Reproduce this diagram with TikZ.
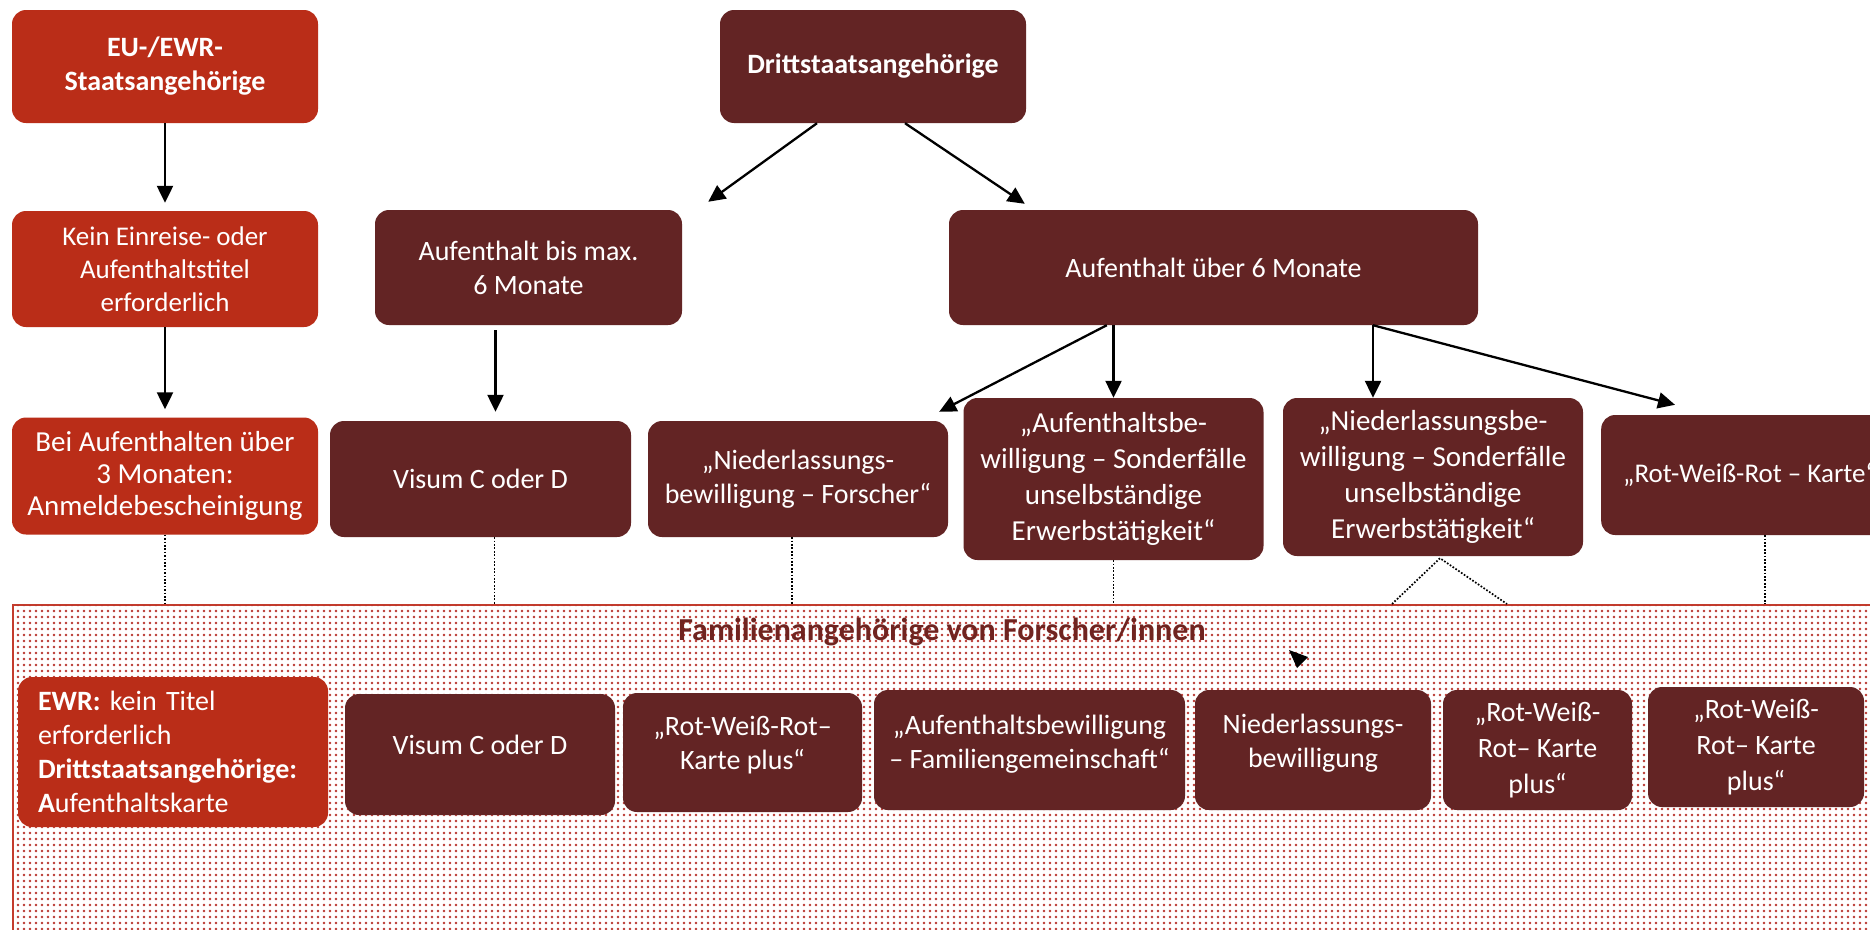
\documentclass[tikz,border=0pt]{standalone}
\usepackage{fontspec}
\setmainfont{Carlito}
\usetikzlibrary{patterns.meta,arrows.meta,calc}
\definecolor{euRed}{RGB}{186,45,24}
\definecolor{maroon}{RGB}{99,36,36}
\definecolor{frameRed}{RGB}{196,60,45}
\definecolor{dotRed}{RGB}{185,55,48}
\definecolor{titleRed}{RGB}{112,36,32}
\begin{document}
\begin{tikzpicture}[x=1pt,y=-1pt,
  box/.style={rounded corners=14pt, text=white, align=center, inner sep=0pt,
    font=\fontsize{28}{34}\selectfont},
  eubox/.style={box, fill=euRed},
  mbox/.style={box, fill=maroon},
  boxtext/.style={text=white, align=center, inner sep=0pt, font=\fontsize{28}{34}\selectfont},
  arr/.style={line width=2.3pt, -{Triangle[length=17pt,width=16pt]}},
  dots/.style={line width=1.7pt, dash pattern=on 1.7pt off 1.7pt},
  famframe/.style={draw=frameRed, line width=2.2pt, fill=white,
    postaction={pattern={Dots[distance=6pt,radius=1.3pt]}, pattern color=dotRed}},
  ]
\clip (0,0) rectangle (1870,929);
\fill[white] (0,0) rectangle (1870,929);

% ---------- family frame ----------
\node[famframe, anchor=north west, minimum width=1900, minimum height=360, inner sep=0pt] (frame) at (12,604) {};
\node[text=titleRed, font=\bfseries\fontsize{32}{38}\selectfont] (title) at (942,632) {Familienangehörige von Forscher/innen};

% ---------- top rows ----------
\node[eubox, minimum width=306, minimum height=113, font=\bfseries\fontsize{28}{34}\selectfont] (eu) at (165,66.5) {EU-/EWR-\\Staatsangehörige};
\node[eubox, minimum width=306, minimum height=116, font=\fontsize{27}{33}\selectfont] (kein) at (165,269) {Kein Einreise- oder\\Aufenthaltstitel\\erforderlich};
\node[eubox, minimum width=306, minimum height=117, font=\fontsize{29}{32}\selectfont] (bei) at (165,476) {Bei Aufenthalten über\\3 Monaten:\\Anmeldebescheinigung};

\node[mbox, minimum width=306, minimum height=113, font=\bfseries\fontsize{28}{34}\selectfont] (dritt) at (873,66.5) {Drittstaatsangehörige};
\node[mbox, minimum width=307, minimum height=115] (bis) at (528.5,267.5) {Aufenthalt bis max.\\6 Monate};
\node[mbox, minimum width=529, minimum height=115] (ueber) at (1213.5,267.5) {Aufenthalt über 6 Monate};

\node[mbox, minimum width=301, minimum height=116] (visA) at (480.5,479) {Visum C oder D};
\node[mbox, minimum width=300, minimum height=116] (nf) at (798,479) {„Niederlassungs-\\bewilligung – Forscher“};
\node[mbox, minimum width=300, minimum height=162, font=\fontsize{29}{36}\selectfont] (ab) at (1113.5,479) {„Aufenthaltsbe-\\willigung – Sonderfälle\\unselbständige\\Erwerbstätigkeit“};
\node[mbox, minimum width=300, minimum height=158, font=\fontsize{29}{36}\selectfont] (nb) at (1433,477) {„Niederlassungsbe-\\willigung – Sonderfälle\\unselbständige\\Erwerbstätigkeit“};
\node[mbox, anchor=west, minimum height=120, inner xsep=22pt, font=\fontsize{27}{33}\selectfont] (rwr) at (1601,475) {„Rot-Weiß-Rot – Karte“};

% ---------- bottom row ----------
\node[eubox, minimum width=310, minimum height=150, text width=270, align=left, inner xsep=20pt] (ewr) at (173,752)
  {\textbf{EWR:} kein Titel\\erforderlich\\\textbf{Drittstaatsangehörige:}\\\textbf{A}ufenthaltskarte};
\node[mbox, minimum width=270, minimum height=121,
  label={[boxtext, yshift=10pt]center:{Visum C oder D}}] (visB) at (480,754.5) {};
\node[mbox, minimum width=239, minimum height=119,
  label={[boxtext, yshift=7pt]center:{„Rot-Weiß-Rot–\\Karte plus“}}] (rwp1) at (742.5,752.5) {};
\node[mbox, minimum width=311, minimum height=120,
  label={[boxtext, yshift=6pt]center:{„Aufenthaltsbewilligung\\– Familiengemeinschaft“}}] (aufb) at (1029.5,750) {};
\node[mbox, minimum width=236, minimum height=120,
  label={[boxtext, yshift=7pt]center:{Niederlassungs-\\bewilligung}}] (nbb) at (1313,750) {};
\node[mbox, minimum width=189, minimum height=120, font=\fontsize{28}{36}\selectfont] (rwp2) at (1537.5,750) {„Rot-Weiß-\\Rot– Karte\\plus“};
\node[mbox, minimum width=216, minimum height=120, font=\fontsize{28}{36}\selectfont] (rwp3) at (1756,747) {„Rot-Weiß-\\Rot– Karte\\plus“};

% ---------- arrows ----------
\draw[arr] (eu.south) -- ($(kein.north)+(0,-8)$);
\draw[arr] (kein.south) -- ($(bei.north)+(0,-8)$);
\draw[arr] ($(dritt.south)+(-56,0)$) -- ($(bis.north east)+(26,-8)$);
\draw[arr] ($(dritt.south)+(32,0)$) -- ($(ueber.north west)+(76,-6)$);
\draw[arr] ($(bis.south)+(-33,5)$) -- ($(visA.north)+(15,-9)$);
\draw[arr] ($(ueber.south west)+(158,0)$) -- ($(nf.north east)+(-9,-9)$);
\draw[arr] (ueber.south -| ab.north) -- (ab.north);
\coordinate (nbin) at ($(nb.north)+(-60,0)$);
\draw[arr] (ueber.south -| nbin) -- (nbin);
\draw[arr] (ueber.south -| nbin) -- ($(rwr.north west)+(74,-10)$);

% ---------- dotted links to the family frame ----------
\draw[dots] (bei.south) -- (bei.south |- frame.north);
\coordinate (visAd) at ($(visA.south)+(14,0)$);
\draw[dots] (visAd) -- (visAd |- frame.north);
\coordinate (nfd) at ($(nf.south)+(-6,0)$);
\draw[dots] (nfd) -- (nfd |- frame.north);
\draw[dots] (ab.south) -- (ab.south |- frame.north);
\coordinate (nbapex) at ($(nb.south)+(7,2)$);
\draw[dots] ($(frame.north west)+(1380,0)$) -- (nbapex) -- ($(frame.north west)+(1495,0)$);
\coordinate (rwrd) at ($(rwr.south west)+(164,0)$);
\draw[dots] (rwrd) -- (rwrd |- frame.north);

% stray arrow head inside the frame
\coordinate (stray) at (1289,650);
\fill (stray) -- (1308,657) -- (1297,668) -- cycle;
\end{tikzpicture}
\end{document}
